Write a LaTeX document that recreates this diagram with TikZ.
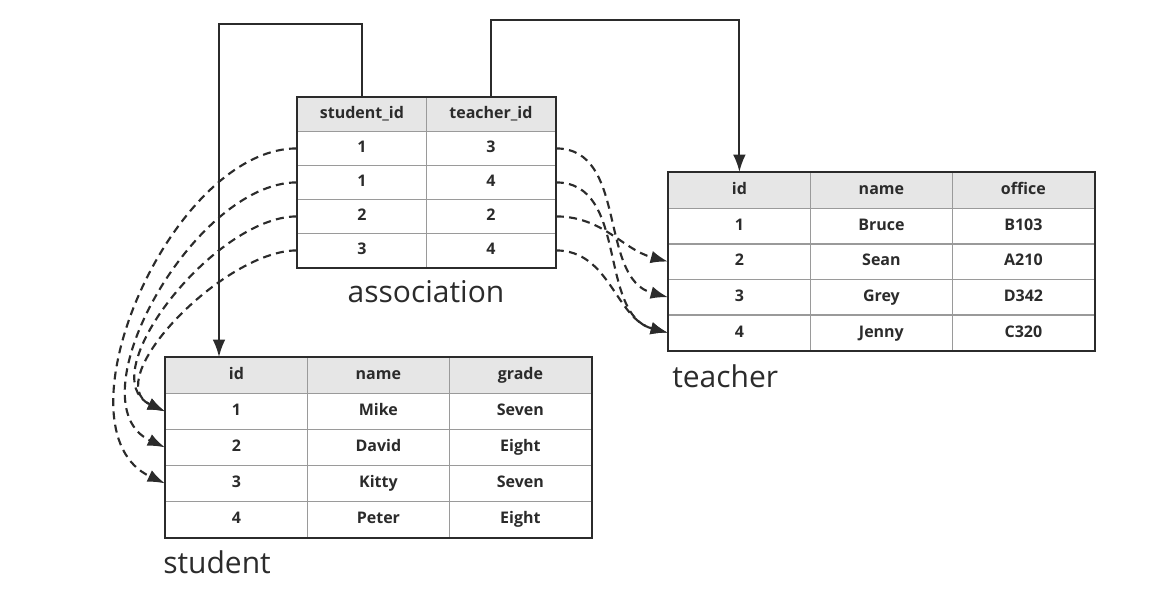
\documentclass[tikz,border=0pt]{standalone}
\usepackage{fontspec}
\setmainfont{Open Sans}
\usetikzlibrary{calc}
\usetikzlibrary{arrows.meta}

\definecolor{ink}{HTML}{2B2B2B}
\definecolor{rule}{HTML}{9A9A9A}
\definecolor{headfill}{HTML}{E6E6E6}

\begin{document}
\begin{tikzpicture}[x=.75pt, y=.75pt,
  >={Latex[length=13pt,width=9.5pt]},
  cell/.style={draw=rule, line width=.6pt, anchor=north west, inner sep=0pt,
    minimum width=106.5pt, minimum height=27pt, text=ink,
    text height=9pt, text depth=2.5pt,
    font=\fontsize{12}{14}\selectfont\bfseries},
  acell/.style={cell, minimum width=96.75pt, minimum height=25.5pt},
  head/.style={fill=headfill},
  frame/.style={draw=ink, line width=1.6pt},
  link/.style={draw=ink, line width=1.5pt},
  fk/.style={draw=ink, line width=1.6pt, dash pattern=on 6pt off 4pt},
  tabname/.style={text=ink, inner sep=0pt, font=\fontsize{22.5}{26}\selectfont}]
\useasboundingbox (0,0) rectangle (1152,-590);

% association table
\foreach \txt [count=\c] in {student\_id, teacher\_id}
  \node[acell, head] (a-0-\c) at (297+129*\c-129, -97) {\txt};
\foreach \sid/\tid [count=\r] in {1/3, 1/4, 2/2, 3/4} {
  \node[acell] (a-\r-1) at (297, -97-34*\r) {\sid};
  \node[acell] (a-\r-2) at (426, -97-34*\r) {\tid};
}
\draw[frame] (a-0-1.north west) rectangle (a-4-2.south east);
\node[tabname, anchor=base] (assoc-name) at (426,-302) {association};

% teacher table
\foreach \txt [count=\c] in {id, name, office}
  \node[cell, head] (t-0-\c) at (668+142*\c-142, -172) {\txt};
\foreach \id/\nm/\off [count=\r] in {1/Bruce/B103, 2/Sean/A210, 3/Grey/D342, 4/Jenny/C320} {
  \node[cell] (t-\r-1) at (668, -172-35.6*\r) {\id};
  \node[cell] (t-\r-2) at (810, -172-35.6*\r) {\nm};
  \node[cell] (t-\r-3) at (952, -172-35.6*\r) {\off};
}
\draw[frame] (t-0-1.north west) rectangle (t-4-3.south east);
\node[tabname, anchor=base west] (teacher-name) at (672,-387) {teacher};

% student table
\foreach \txt [count=\c] in {id, name, grade}
  \node[cell, head] (s-0-\c) at (165+142*\c-142, -357) {\txt};
\foreach \id/\nm/\gr [count=\r] in {1/Mike/Seven, 2/David/Eight, 3/Kitty/Seven, 4/Peter/Eight} {
  \node[cell] (s-\r-1) at (165, -357-36*\r) {\id};
  \node[cell] (s-\r-2) at (307, -357-36*\r) {\nm};
  \node[cell] (s-\r-3) at (449, -357-36*\r) {\gr};
}
\draw[frame] (s-0-1.north west) rectangle (s-4-3.south east);
\node[tabname, anchor=base west] (student-name) at (163,-573) {student};

% table links
\coordinate (sdrop) at (219,-24);
\coordinate (tdrop) at ($(t-0-1.north |- 0,-20)$);
\draw[link, ->] (a-0-1.north) |- (sdrop) -- (sdrop |- s-0-1.north);
\draw[link, ->] (a-0-2.north) |- (tdrop) -- (t-0-1.north);

% row references
\foreach \r/\t in {1/3, 2/2, 3/1, 4/1}
  \draw[fk, ->] (a-\r-1.west) to[out=180, in=155, looseness=.9] (s-\t-1.west);
\foreach \r/\t in {1/3, 2/4, 3/2, 4/4}
  \draw[fk, ->] (a-\r-2.east) to[out=0, in=165] (t-\t-1.west);
\end{tikzpicture}
\end{document}
